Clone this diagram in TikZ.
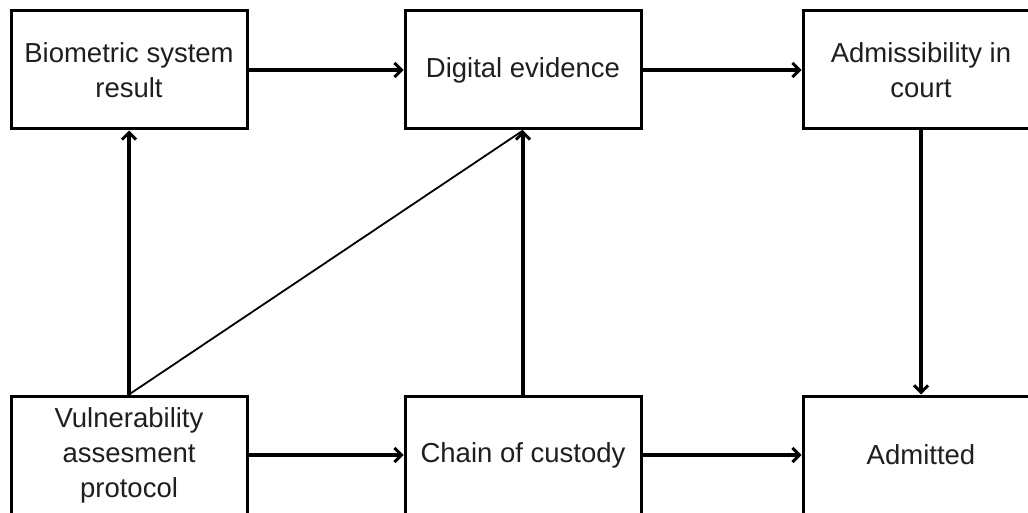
\documentclass[tikz,border=0pt]{standalone}
\usepackage{fontspec}
\setmainfont{Liberation Sans}
\usetikzlibrary{arrows.meta}
\begin{document}
\begin{tikzpicture}[x=1pt,y=-1pt,
  stagebox/.style={draw, line width=3pt, minimum width=236pt, minimum height=118pt,
    inner sep=0pt, align=center, text=black!88,
    font=\fontsize{27.5}{35}\selectfont},
  flow/.style={line width=3.2pt, -{Straight Barb[length=7pt,width=14pt,line width=3pt]}},
  thinflow/.style={line width=1.8pt}]
\useasboundingbox (0,0) rectangle (1028,513);
\clip (0,0) rectangle (1028,513);
\fill[white] (0,0) rectangle (1028,513);

% top row
\node[stagebox] (bio) at (129,70) {Biometric system\\result};
\node[stagebox] (dig) at (523,70) {Digital evidence};
\node[stagebox] (adm) at (921,70) {Admissibility in\\court};
% bottom row
\node[stagebox] (vul) at (129,455) {Vulnerability\\assesment\\protocol};
\node[stagebox] (coc) at (523,455) {Chain of custody};
\node[stagebox] (acc) at (921,455) {Admitted};

% connectors
\draw[flow] (bio) -- (dig);
\draw[flow] (dig) -- (adm);
\draw[flow] (vul) -- (coc);
\draw[flow] (coc) -- (acc);
\draw[flow] (vul.north) -- (bio.south);
\draw[flow] (coc.north) -- (dig.south);
\draw[flow] (adm.south) -- (acc.north);
\draw[thinflow] (vul.north) -- (dig.south);
\end{tikzpicture}
\end{document}
